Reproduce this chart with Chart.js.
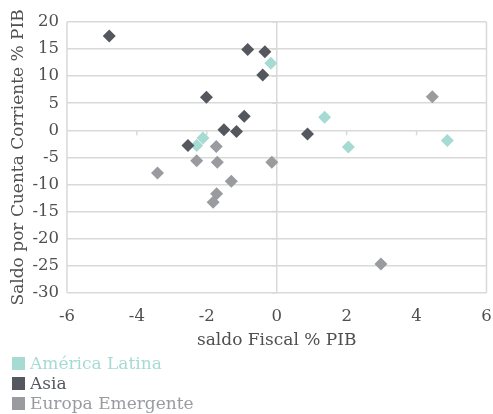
<!DOCTYPE html>
<html>
<head>
<meta charset="utf-8">
<script src="https://cdn.jsdelivr.net/npm/chart.js@4/dist/chart.umd.min.js"></script>
<style>
  body { margin: 0; background: #fff; }
  #wrap { position: relative; width: 493px; height: 414px; }
  #legend { position: absolute; left: 12px; top: 353px; font-family: "DejaVu Serif", serif; font-size: 17px; line-height: 20px; }
  #legend div { display: flex; align-items: center; white-space: nowrap; }
  #legend span.box { display: inline-block; width: 13px; height: 13px; margin-right: 5px; }
</style>
</head>
<body>
<div id="wrap">
  <canvas id="chart" width="493" height="414"></canvas>
  <div id="legend"></div>
</div>
<script>
// series names and colours
const seriesNames = ['América Latina', 'Asia', 'Europa Emergente'];
const seriesColors = ['#a6dbd4', '#54585e', '#999b9f'];

// saldo fiscal (x) and saldo por cuenta corriente (y), % PIB
const latamX = [-2.29, -2.11, -0.17, 1.37, 2.05, 4.88];
const latamY = [-2.8, -1.4, 12.4, 2.4, -3.1, -1.9];

const asiaX = [-4.79, -0.83, -0.34, -0.40, -2.01, -0.93, -1.51, -1.15, -2.54, 0.88];
const asiaY = [17.4, 14.9, 14.5, 10.2, 6.1, 2.6, 0.1, -0.2, -2.8, -0.7];

const europaX = [-1.73, -2.29, -1.70, -3.41, -1.30, -1.72, -1.82, -0.14, 4.45, 2.98];
const europaY = [-3.0, -5.6, -5.9, -7.9, -9.4, -11.7, -13.3, -5.9, 6.2, -24.7];

const xTicks = [-6, -4, -2, 0, 2, 4, 6];
const yTicks = [-30, -25, -20, -15, -10, -5, 0, 5, 10, 15, 20];

const toPoints = (xs, ys) => xs.map((x, i) => ({ x: x, y: ys[i] }));
const pointSets = [toPoints(latamX, latamY), toPoints(asiaX, asiaY), toPoints(europaX, europaY)];

const gridColor = '#d9d9d9';
const textColor = '#4f4f4f';
const serif = '"DejaVu Serif", serif';

// frame at x=-6 / x=6, the y axis at x=0 and the small tick marks
const axisLines = {
    id: 'axisLines',
    beforeDatasetsDraw(chart) {
        const ctx = chart.ctx;
        const xs = chart.scales.x, ys = chart.scales.y;
        const top = ys.getPixelForValue(yTicks[yTicks.length - 1]);
        const bottom = ys.getPixelForValue(yTicks[0]);
        const y0 = ys.getPixelForValue(0);
        const x0 = xs.getPixelForValue(0);
        ctx.save();
        ctx.strokeStyle = gridColor;
        ctx.lineWidth = 1.5;
        [xTicks[0], 0, xTicks[xTicks.length - 1]].forEach(v => {
            const px = xs.getPixelForValue(v);
            ctx.beginPath();
            ctx.moveTo(px, top);
            ctx.lineTo(px, bottom);
            ctx.stroke();
        });
        xTicks.forEach(v => {
            if (v === 0 || v === xTicks[0] || v === xTicks[xTicks.length - 1]) return;
            const px = xs.getPixelForValue(v);
            ctx.beginPath();
            ctx.moveTo(px, y0);
            ctx.lineTo(px, y0 + 5);
            ctx.stroke();
        });
        yTicks.forEach(v => {
            const py = ys.getPixelForValue(v);
            ctx.beginPath();
            ctx.moveTo(x0 - 5, py);
            ctx.lineTo(x0, py);
            ctx.stroke();
        });
        ctx.restore();
    }
};

const chart = new Chart(document.getElementById('chart').getContext('2d'), {
    type: 'scatter',
    data: {
        datasets: seriesNames.map((name, i) => ({
            label: name,
            data: pointSets[i],
            pointStyle: 'rectRot',
            pointRadius: 6.5,
            pointHoverRadius: 6.5,
            backgroundColor: seriesColors[i],
            borderColor: seriesColors[i],
            borderWidth: 0,
            order: 2 - i
        }))
    },
    options: {
        responsive: false,
        animation: false,
        layout: { padding: { top: 22, right: 5, left: 8, bottom: 63 } },
        plugins: {
            legend: { display: false },
            tooltip: { enabled: false }
        },
        scales: {
            x: {
                type: 'linear',
                min: -6,
                max: 6,
                afterBuildTicks: axis => { axis.ticks = xTicks.map(v => ({ value: v })); },
                afterFit: axis => { axis.paddingRight = 0; },
                grid: { display: false, drawTicks: false },
                border: { display: false },
                ticks: { color: textColor, font: { family: serif, size: 16.5 }, padding: 14 },
                title: { display: true, text: 'saldo Fiscal % PIB', color: textColor, font: { family: serif, size: 17 }, padding: { top: -10, bottom: 0 } }
            },
            y: {
                type: 'linear',
                min: -30,
                max: 20,
                afterBuildTicks: axis => { axis.ticks = yTicks.map(v => ({ value: v })); },
                afterFit: axis => { axis.paddingTop = 0; axis.paddingBottom = 0; },
                grid: { color: gridColor, lineWidth: 1.5, drawTicks: false },
                border: { display: false },
                ticks: { color: textColor, font: { family: serif, size: 16.5 }, padding: 8 },
                title: { display: true, text: 'Saldo por Cuenta Corriente % PIB', color: textColor, font: { family: serif, size: 17 }, padding: { top: 0, bottom: -4 } }
            }
        }
    },
    plugins: [axisLines]
});

// legend stacked one per row, text in series colour
const legendEl = document.getElementById('legend');
chart.data.datasets.forEach(ds => {
    const row = document.createElement('div');
    row.style.color = ds.backgroundColor;
    row.innerHTML = '<span class="box" style="background:' + ds.backgroundColor + '"></span>' + ds.label;
    legendEl.appendChild(row);
});
</script>
</body>
</html>
